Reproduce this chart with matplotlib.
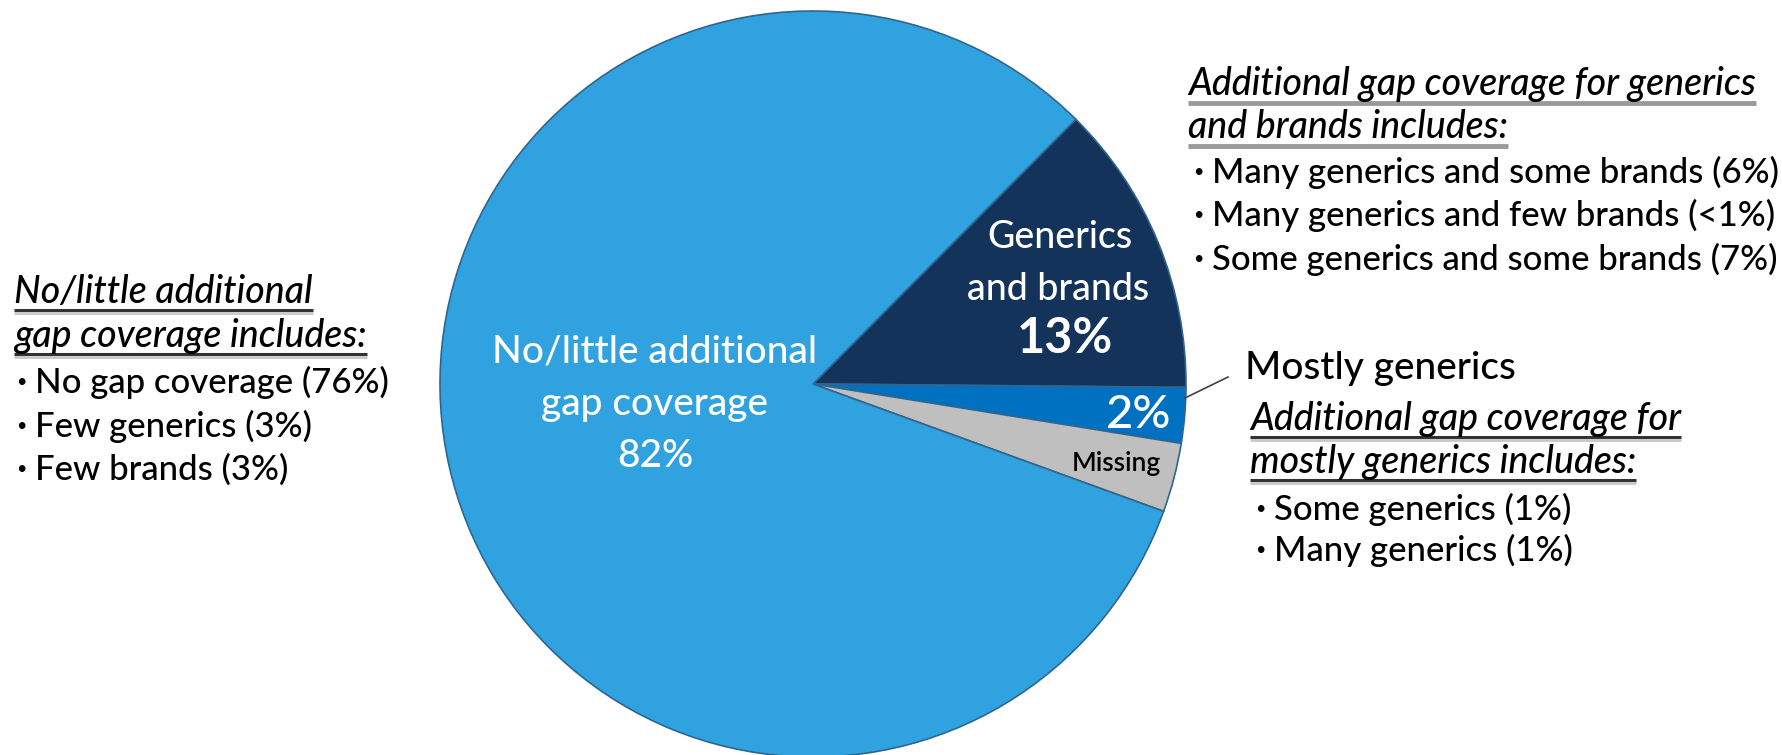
import matplotlib.pyplot as plt

plt.rcParams['font.family'] = ['Lato', 'DejaVu Sans']

# slices, clockwise from the upper edge of the dark slice
slice_names = ["Generics and brands", "Mostly generics", "Missing", "No/little additional gap coverage"]
slice_shares = [12.7, 2.4, 3.0, 81.9]
slice_pct = ["13%", "2%", "", "82%"]
slice_colors = ["#14335b", "#0070c0", "#bfbfbf", "#31a2e0"]

gb_title = ["Additional gap coverage for generics", "and brands includes:"]
gb_items = ["Many generics and some brands (6%)", "Many generics and few brands (<1%)",
            "Some generics and some brands (7%)"]
mg_title = ["Additional gap coverage for", "mostly generics includes:"]
mg_items = ["Some generics (1%)", "Many generics (1%)"]
nl_title = ["No/little additional", "gap coverage includes:"]
nl_items = ["No gap coverage (76%)", "Few generics (3%)", "Few brands (3%)"]

W, H = 1783, 755
fig = plt.figure(figsize=(W / 100, H / 100), dpi=100)
ax = fig.add_axes([0, 0, 1, 1])

ax.pie(slice_shares, colors=slice_colors, startangle=45.2, counterclock=False,
       center=(813, H - 384), radius=373,
       wedgeprops={'edgecolor': '#2f6690', 'linewidth': 1.2})
ax.set_xlim(0, W)
ax.set_ylim(0, H)
ax.set_aspect('equal')
ax.axis('off')


def put(x, y, s, **kw):
    # y given in pixels from the top, baseline aligned
    return ax.text(x, H - y, s, va='baseline', **kw)


# labels inside the pie
for y, s in zip([363, 415, 467], ["No/little additional", "gap coverage", slice_pct[3]]):
    put(655, y, s, ha='center', color='white', fontsize=28, fontweight='medium')

put(1060, 248, "Generics", ha='center', color='white', fontsize=27, fontweight='medium')
put(1058, 300, "and brands", ha='center', color='white', fontsize=27, fontweight='medium')
put(1065, 353, slice_pct[0], ha='center', color='white', fontsize=35, fontweight='bold')

put(1139, 428, slice_pct[1], ha='center', color='white', fontsize=34, fontweight='medium')
put(1116, 471, slice_names[2], ha='center', color='black', fontsize=19, fontweight='semibold')

# leader + "Mostly generics"
ax.plot([1185, 1228], [H - 398, H - 377], color='#404040', lw=1.2)
put(1245, 379, slice_names[1], color='black', fontsize=28, fontweight='medium')

fig.canvas.draw()
rend = fig.canvas.get_renderer()


def title_block(x, ys, lines, size, ul_color, shadow):
    for y, s in zip(ys, lines):
        t = put(x, y, s, color='black', fontsize=size, style='italic', fontweight='medium')
        bb = t.get_window_extent(renderer=rend)
        if shadow:
            ax.plot([bb.x0, bb.x1], [H - y - 7, H - y - 7], color='#333333', lw=2.2, solid_capstyle='butt')
            ax.plot([bb.x0, bb.x1], [H - y - 9.5, H - y - 9.5], color='#c8c8c8', lw=2, solid_capstyle='butt')
        else:
            ax.plot([bb.x0, bb.x1], [H - y - 8, H - y - 8], color=ul_color, lw=3.5, solid_capstyle='butt')


def bullets(x, ys, items, size):
    for y, s in zip(ys, items):
        put(x, y - 6, "\u2022", color='black', fontsize=13)
        put(x + 19, y, s, color='black', fontsize=size, fontweight='medium')


title_block(1188, [95, 138], gb_title, 27, '#9a9a9a', False)
bullets(1193, [183, 226, 270], gb_items, 25)

title_block(1250, [430, 473], mg_title, 27, '#333333', True)
bullets(1255, [520, 561], mg_items, 25)

title_block(14, [303, 347], nl_title, 27, '#333333', True)
bullets(16, [393, 437, 480], nl_items, 25)

fig.savefig("out.png", dpi=100)
